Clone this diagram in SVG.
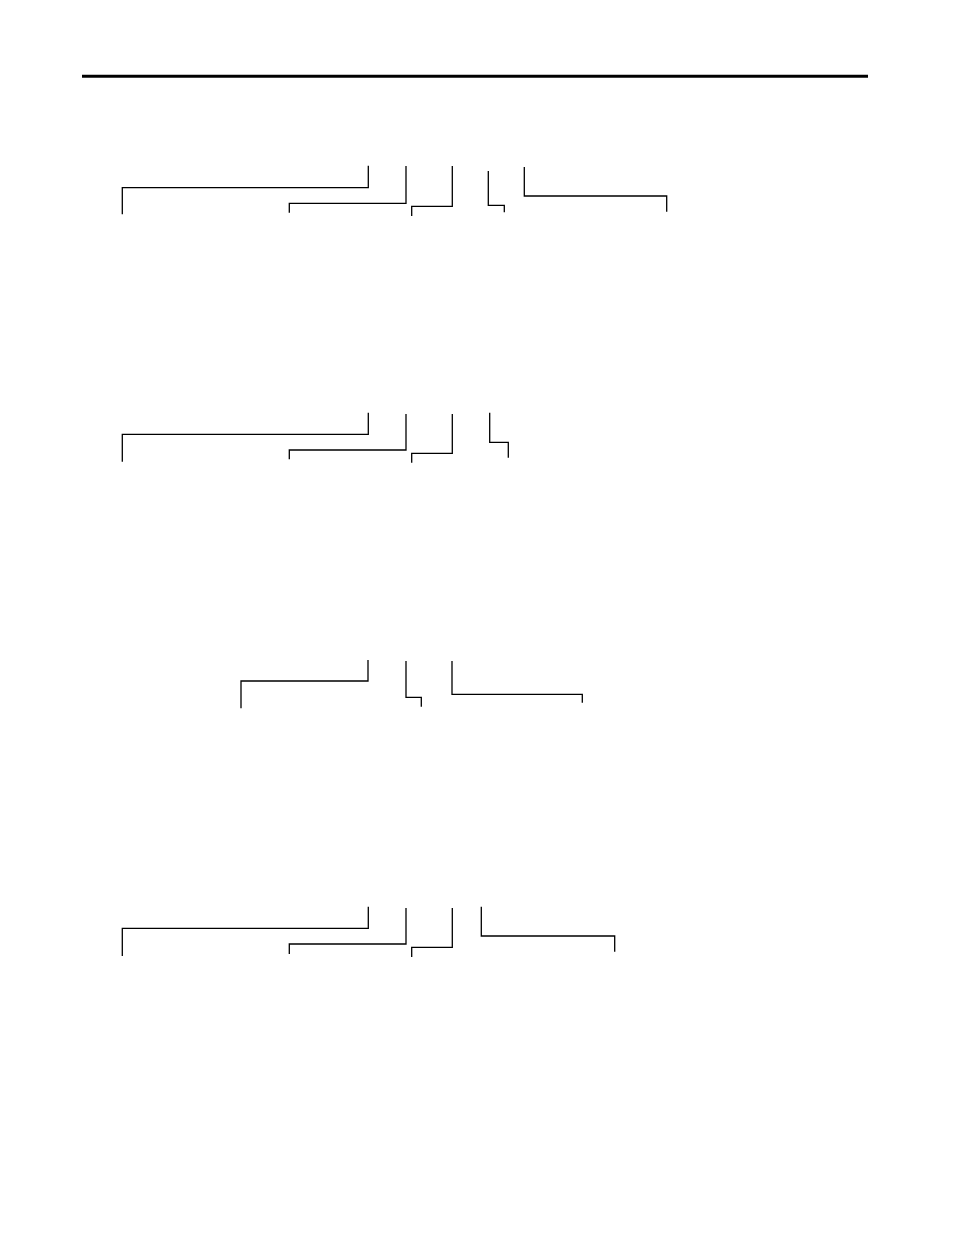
<svg xmlns="http://www.w3.org/2000/svg" width="954" height="1235" viewBox="0 0 954 1235">
<style>
.c{fill:none;stroke:#000;stroke-width:1.3;stroke-linecap:butt;stroke-linejoin:miter}
</style>
<rect width="954" height="1235" fill="#fff"/>
<g id="header-rule"><line x1="82" y1="76.3" x2="868" y2="76.3" stroke="#000" stroke-width="3"/></g>
<g id="connectors">
<g id="set1">
<polyline class="c" points="368.3,165.7 368.3,187.7 122.3,187.7 122.3,214.3"/>
<polyline class="c" points="406,166 406,203.3 289.3,203.3 289.3,212.7"/>
<polyline class="c" points="452.3,166 452.3,206.3 411.7,206.3 411.7,216"/>
<polyline class="c" points="488.3,171 488.3,205.3 504.3,205.3 504.3,212.3"/>
<polyline class="c" points="524.3,167 524.3,196 666.7,196 666.7,211.7"/>
</g>
<g id="set2">
<polyline class="c" points="368.3,412.7 368.3,434.3 122.3,434.3 122.3,461.7"/>
<polyline class="c" points="406,414 406,450 289.3,450 289.3,459.3"/>
<polyline class="c" points="452.3,414 452.3,453.3 411.7,453.3 411.7,462.7"/>
<polyline class="c" points="489.7,412.7 489.7,442.3 508.3,442.3 508.3,457.7"/>
</g>
<g id="set3">
<polyline class="c" points="368,660 368,681 241,681 241,708.3"/>
<polyline class="c" points="406,661 406,697.3 421.3,697.3 421.3,706.7"/>
<polyline class="c" points="452,661 452,694.3 582.3,694.3 582.3,702.7"/>
</g>
<g id="set4">
<polyline class="c" points="368.3,906.7 368.3,928.3 122.3,928.3 122.3,956"/>
<polyline class="c" points="406,908 406,944 289.3,944 289.3,954"/>
<polyline class="c" points="452.3,908 452.3,947.3 411.7,947.3 411.7,957"/>
<polyline class="c" points="481.3,906.7 481.3,936 614.7,936 614.7,951.7"/>
</g>
</g>
</svg>
